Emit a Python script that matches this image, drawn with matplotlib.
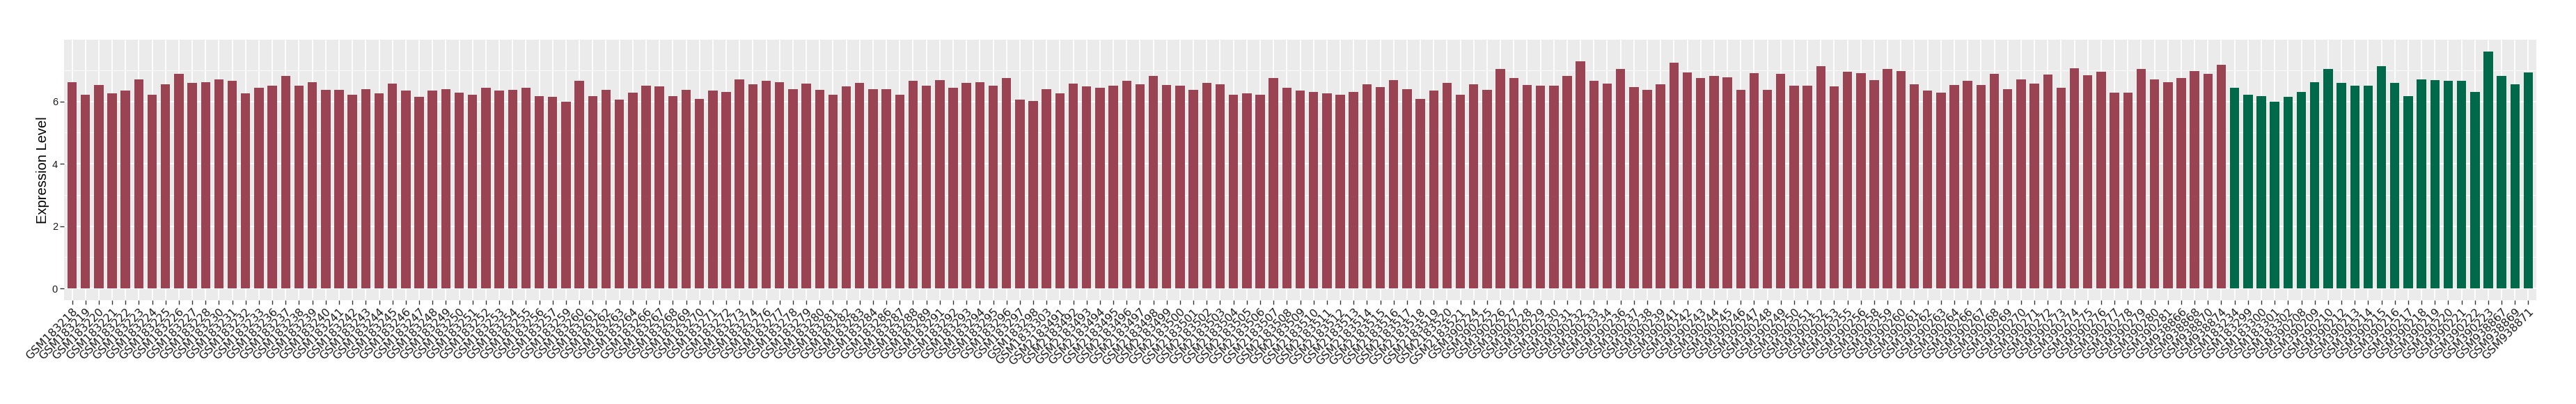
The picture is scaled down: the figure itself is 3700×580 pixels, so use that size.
import numpy as np
import matplotlib
matplotlib.use("Agg")
import matplotlib.pyplot as plt
from matplotlib.ticker import MultipleLocator

# --- data ---
red_samples = [
    "GSM183218", "GSM183219", "GSM183220", "GSM183221", "GSM183222", "GSM183223", "GSM183224",
    "GSM183225", "GSM183226", "GSM183227", "GSM183228", "GSM183230", "GSM183231", "GSM183232",
    "GSM183233", "GSM183236", "GSM183237", "GSM183238", "GSM183239", "GSM183240", "GSM183241",
    "GSM183242", "GSM183243", "GSM183244", "GSM183245", "GSM183246", "GSM183247", "GSM183248",
    "GSM183249", "GSM183250", "GSM183251", "GSM183252", "GSM183253", "GSM183254", "GSM183255",
    "GSM183256", "GSM183257", "GSM183259", "GSM183260", "GSM183261", "GSM183262", "GSM183263",
    "GSM183264", "GSM183266", "GSM183267", "GSM183268", "GSM183269", "GSM183270", "GSM183271",
    "GSM183272", "GSM183273", "GSM183274", "GSM183276", "GSM183277", "GSM183278", "GSM183279",
    "GSM183280", "GSM183281", "GSM183282", "GSM183283", "GSM183284", "GSM183286", "GSM183287",
    "GSM183288", "GSM183289", "GSM183291", "GSM183292", "GSM183293", "GSM183294", "GSM183295",
    "GSM183296", "GSM183297", "GSM183298", "GSM1833303",
    "GSM2183491", "GSM2183492", "GSM2183493", "GSM2183494", "GSM2183495", "GSM2183496",
    "GSM2183497", "GSM2183498", "GSM2183499", "GSM2183500", "GSM2183501", "GSM2183502",
    "GSM2183503", "GSM2183504", "GSM2183505", "GSM2183506", "GSM2183507", "GSM2183508",
    "GSM2183509", "GSM2183510", "GSM2183511", "GSM2183512", "GSM2183513", "GSM2183514",
    "GSM2183515", "GSM2183516", "GSM2183517", "GSM2183518", "GSM2183519", "GSM2183520",
    "GSM2183521",
    "GSM390224", "GSM390225", "GSM390226", "GSM390227", "GSM390228", "GSM390229", "GSM390230",
    "GSM390231", "GSM390232", "GSM390233", "GSM390234", "GSM390236", "GSM390237", "GSM390238",
    "GSM390239", "GSM390241", "GSM390242", "GSM390243", "GSM390244", "GSM390245", "GSM390246",
    "GSM390247", "GSM390248", "GSM390249", "GSM390250", "GSM390251", "GSM390252", "GSM390253",
    "GSM390255", "GSM390256", "GSM390258", "GSM390259", "GSM390260", "GSM390261", "GSM390262",
    "GSM390263", "GSM390264", "GSM390266", "GSM390267", "GSM390268", "GSM390269", "GSM390270",
    "GSM390271", "GSM390272", "GSM390273", "GSM390274", "GSM390275", "GSM390276", "GSM390277",
    "GSM390278", "GSM390279", "GSM390280", "GSM390281",
    "GSM938866", "GSM938868", "GSM938870", "GSM938874",
]
red_values = [
    6.62, 6.21, 6.53, 6.25, 6.34, 6.71, 6.22, 6.56, 6.89, 6.60, 6.62, 6.71, 6.65, 6.27,
    6.44, 6.51, 6.82, 6.51, 6.62, 6.38, 6.36, 6.22, 6.40, 6.27, 6.58, 6.34, 6.14, 6.34,
    6.40, 6.29, 6.22, 6.44, 6.34, 6.36, 6.44, 6.16, 6.14, 5.98, 6.67, 6.18, 6.36, 6.05,
    6.29, 6.51, 6.49, 6.18, 6.38, 6.09, 6.34, 6.31, 6.71, 6.56, 6.67, 6.62, 6.40, 6.58,
    6.38, 6.22, 6.49, 6.60, 6.40, 6.40, 6.22, 6.65, 6.51, 6.69, 6.43, 6.60, 6.62, 6.51,
    6.76, 6.05, 6.02, 6.40,
    6.27, 6.58, 6.49, 6.44, 6.51, 6.67, 6.56, 6.81, 6.53, 6.51, 6.36, 6.60, 6.56, 6.21,
    6.27, 6.21, 6.76, 6.43, 6.34, 6.31, 6.25, 6.22, 6.31, 6.56, 6.47, 6.69, 6.40, 6.09,
    6.34, 6.60, 6.21,
    6.56, 6.36, 7.04, 6.76, 6.53, 6.51, 6.51, 6.82, 7.29, 6.65, 6.58, 7.03, 6.47, 6.38,
    6.56, 7.25, 6.94, 6.74, 6.82, 6.78, 6.36, 6.91, 6.36, 6.89, 6.51, 6.51, 7.13, 6.49,
    6.96, 6.91, 6.69, 7.03, 6.98, 6.56, 6.34, 6.29, 6.53, 6.67, 6.53, 6.89, 6.40, 6.71,
    6.58, 6.87, 6.43, 7.07, 6.85, 6.96, 6.29, 6.29, 7.03, 6.71, 6.62,
    6.74, 6.98, 6.89, 7.18,
]
green_samples = [
    "GSM183234", "GSM183299", "GSM183300", "GSM183301", "GSM183302", "GSM390208", "GSM390209",
    "GSM390210", "GSM390212", "GSM390213", "GSM390214", "GSM390215", "GSM390216", "GSM390217",
    "GSM390218", "GSM390219", "GSM390220", "GSM390221", "GSM390222", "GSM390223",
    "GSM938867", "GSM938869", "GSM938871",
]
green_values = [
    6.44, 6.22, 6.16, 5.98, 6.14, 6.31, 6.62, 7.03, 6.60, 6.51, 6.51, 7.13, 6.60, 6.16,
    6.71, 6.69, 6.67, 6.65, 6.31, 7.60, 6.81, 6.56, 6.94,
]

RED = "#9A4352"
GREEN = "#00694A"
y_label = "Expression Level"

samples = red_samples + green_samples
values = red_values + green_values
colors = [RED] * len(red_samples) + [GREEN] * len(green_samples)
n = len(samples)
x = np.arange(n)

# --- figure, ggplot-like theme ---
fig = plt.figure(figsize=(37, 5.8), dpi=100)
# panel spans x 92..3643 px, y 57..431 px
ax = fig.add_axes([92 / 3700, 149 / 580, (3643 - 92) / 3700, (431 - 57) / 580])
ax.set_facecolor("#EBEBEB")
for s in ax.spines.values():
    s.set_visible(False)

ax.bar(x, values, width=0.7, color=colors, zorder=3)

ax.set_xlim(-0.6, n - 0.4)
ymax = max(values)
ax.set_ylim(-0.05 * ymax, 1.05 * ymax)

ax.yaxis.set_major_locator(MultipleLocator(2))
ax.yaxis.set_minor_locator(MultipleLocator(1))
ax.grid(which="major", axis="both", color="white", linewidth=1.3, zorder=0)
ax.grid(which="minor", axis="y", color="white", linewidth=0.6, zorder=0)
ax.set_axisbelow(True)

ax.set_xticks(x)
ax.set_xticklabels(samples, rotation=45, ha="right", va="top", rotation_mode="anchor",
                   fontsize=11.5, family="DejaVu Sans", color="#1A1A1A")
ax.tick_params(axis="both", which="major", length=4, width=1, color="#333333", pad=2.5)
ax.tick_params(axis="y", which="minor", length=0)
for lab in ax.get_yticklabels():
    lab.set_family("Liberation Sans")
    lab.set_fontsize(10.5)
    lab.set_color("#1A1A1A")

ax.set_ylabel(y_label, fontsize=14.5, family="Liberation Sans", labelpad=3)

fig.savefig("out.png", dpi=100, facecolor="white")
